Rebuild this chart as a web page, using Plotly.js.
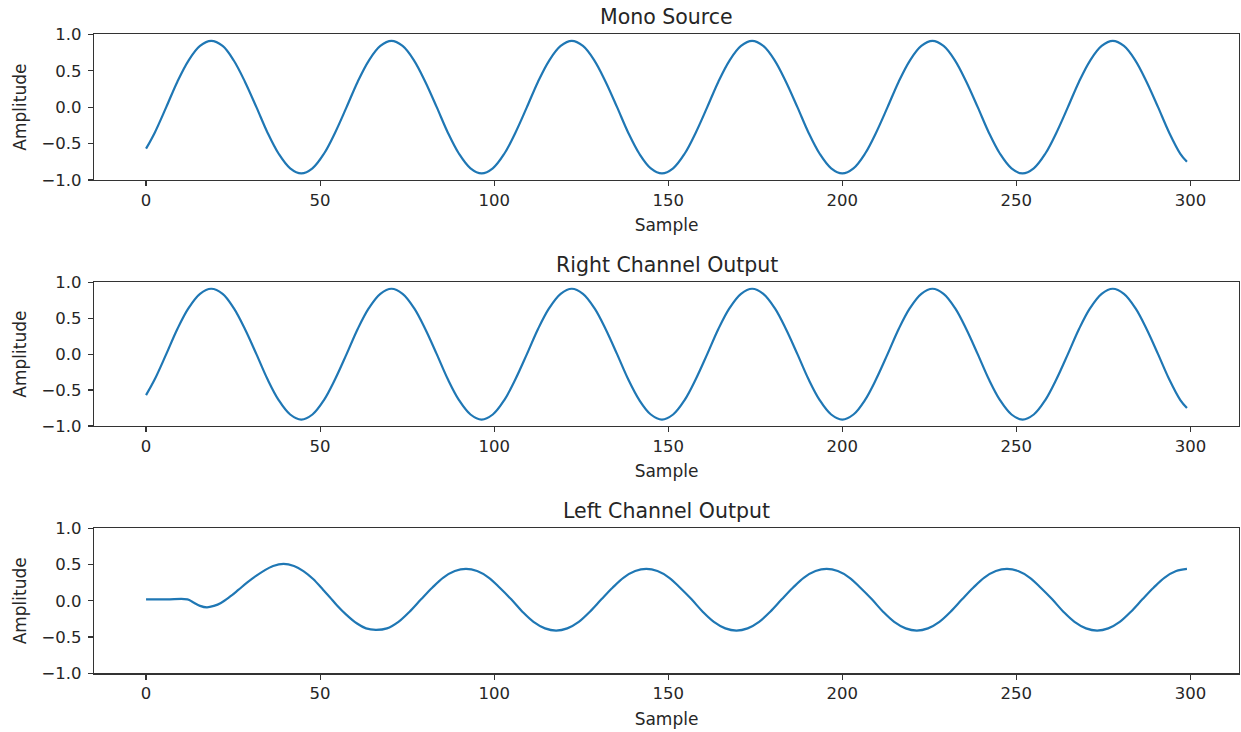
<!DOCTYPE html>
<html>
<head>
<meta charset="utf-8">
<script src="https://cdn.plot.ly/plotly-3.0.1.min.js"></script>
<style>html,body{margin:0;padding:0;background:#fff;}#chart{width:1241px;height:732px;}</style>
</head>
<body>
<div id="chart"></div>
<script>
// Subplot titles and axis labels
const subplotTitles = ["Mono Source", "Right Channel Output", "Left Channel Output"];
const xLabel = "Sample";
const yLabel = "Amplitude";
const xTickVals = [0, 50, 100, 150, 200, 250, 300];
const yTickVals = [-1.0, -0.5, 0.0, 0.5, 1.0];

// Mono source: points (sample, amplitude)
const monoX = [0, 2.5,
  5.8, 9.0, 12.2, 15.5, 18.7, 22.0, 25.2, 28.4, 31.7, 34.9, 38.1, 41.4, 44.6, 47.8, 51.1, 54.3,
  57.6, 60.8, 64.0, 67.3, 70.5, 73.7, 77.0, 80.2, 83.5, 86.7, 89.9, 93.2, 96.4, 99.6, 102.9, 106.1,
  109.4, 112.6, 115.8, 119.1, 122.3, 125.5, 128.8, 132.0, 135.3, 138.5, 141.7, 145.0, 148.2, 151.4, 154.7, 157.9,
  161.2, 164.4, 167.6, 170.9, 174.1, 177.3, 180.6, 183.8, 187.1, 190.3, 193.5, 196.8, 200.0, 203.2, 206.5, 209.7,
  213.0, 216.2, 219.4, 222.7, 225.9, 229.1, 232.4, 235.6, 238.9, 242.1, 245.3, 248.6, 251.8, 255.0, 258.3, 261.5,
  264.8, 268.0, 271.2, 274.5, 277.7, 280.9, 284.2, 287.4, 290.7, 293.9, 297.1,
  299];
const monoY = [-0.57, -0.35,
  0, 0.35, 0.64, 0.84, 0.91, 0.84, 0.64, 0.35, 0, -0.35, -0.64, -0.84, -0.91, -0.84, -0.64, -0.35,
  0, 0.35, 0.64, 0.84, 0.91, 0.84, 0.64, 0.35, 0, -0.35, -0.64, -0.84, -0.91, -0.84, -0.64, -0.35,
  0, 0.35, 0.64, 0.84, 0.91, 0.84, 0.64, 0.35, 0, -0.35, -0.64, -0.84, -0.91, -0.84, -0.64, -0.35,
  0, 0.35, 0.64, 0.84, 0.91, 0.84, 0.64, 0.35, 0, -0.35, -0.64, -0.84, -0.91, -0.84, -0.64, -0.35,
  0, 0.35, 0.64, 0.84, 0.91, 0.84, 0.64, 0.35, 0, -0.35, -0.64, -0.84, -0.91, -0.84, -0.64, -0.35,
  0, 0.35, 0.64, 0.84, 0.91, 0.84, 0.64, 0.35, 0, -0.35, -0.64,
  -0.75];

// Right channel output: same as the mono source in the picture
const rightX = monoX.slice();
const rightY = monoY.slice();

// Left channel output: points
const leftX = [0, 6, 11.9, 13.5, 15.5, 17.5, 19.5, 21.5, 24.2, 26.5, 29.0, 31.5, 33.7, 36.5, 39.5, 42.5, 45.2, 48.0, 50.9, 52.8, 54.8, 57.5, 60.5, 63.2,
  66.0, 69.2, 72.5, 75.7, 79.0, 82.2, 85.4, 88.7, 91.9, 95.1, 98.4, 101.6, 104.9, 108.1, 111.3, 114.6,
  117.8, 121.0, 124.3, 127.5, 130.8, 134.0, 137.2, 140.5, 143.7, 146.9, 150.2, 153.4, 156.7, 159.9, 163.1, 166.4,
  169.6, 172.8, 176.1, 179.3, 182.6, 185.8, 189.0, 192.3, 195.5, 198.7, 202.0, 205.2, 208.5, 211.7, 214.9, 218.2,
  221.4, 224.6, 227.9, 231.1, 234.4, 237.6, 240.8, 244.1, 247.3, 250.5, 253.8, 257.0, 260.3, 263.5, 266.7, 270.0,
  273.2, 276.4, 279.7, 282.9, 286.2, 289.4, 292.6, 295.9, 299.0];
const leftY = [0.02, 0.02, 0.02, -0.02, -0.07, -0.09, -0.07, -0.03, 0.06, 0.15, 0.25, 0.34, 0.41, 0.48, 0.51, 0.48, 0.41, 0.30, 0.15, 0.05, -0.06, -0.19, -0.31, -0.38,
  -0.40, -0.38, -0.29, -0.15, 0.02, 0.18, 0.32, 0.41, 0.44, 0.41, 0.32, 0.18, 0.02, -0.15, -0.29, -0.38,
  -0.41, -0.38, -0.29, -0.15, 0.02, 0.18, 0.32, 0.41, 0.44, 0.41, 0.32, 0.18, 0.02, -0.15, -0.29, -0.38,
  -0.41, -0.38, -0.29, -0.15, 0.02, 0.18, 0.32, 0.41, 0.44, 0.41, 0.32, 0.18, 0.02, -0.15, -0.29, -0.38,
  -0.41, -0.38, -0.29, -0.15, 0.02, 0.18, 0.32, 0.41, 0.44, 0.41, 0.32, 0.18, 0.02, -0.15, -0.29, -0.38,
  -0.41, -0.38, -0.29, -0.15, 0.02, 0.18, 0.32, 0.41, 0.44];

const lineColor = "#1f77b4";
const textColor = "#262626";
const fontFam = "DejaVu Sans, sans-serif";

function mkTrace(x, y, n) {
  return {
    x: x, y: y, type: "scatter", mode: "lines",
    line: {color: lineColor, width: 2.2, shape: "spline", smoothing: 1},
    xaxis: n === 1 ? "x" : "x" + n,
    yaxis: n === 1 ? "y" : "y" + n,
    hoverinfo: "skip", showlegend: false
  };
}

const H = 732;
const doms = [[34.3, 180], [282.3, 426], [528.3, 673.3]].map(d => [1 - d[1] / H, 1 - d[0] / H]);

function xAxis(n) {
  return {
    domain: [0, 1], anchor: n === 1 ? "y" : "y" + n,
    range: [-14.95, 313.95], tickvals: xTickVals, ticktext: xTickVals.map(String),
    showgrid: false, zeroline: false, showline: true, mirror: true,
    linecolor: "#333", linewidth: 1.2, ticks: "outside", ticklen: 5, tickwidth: 1.2, tickcolor: "#333",
    tickfont: {family: fontFam, size: 16.5, color: textColor},
    title: {text: xLabel, font: {family: fontFam, size: 17, color: textColor}, standoff: 10},
    automargin: false, fixedrange: true
  };
}
function yAxis(n) {
  return {
    domain: doms[n - 1], anchor: n === 1 ? "x" : "x" + n,
    range: [-1, 1], tickvals: yTickVals, tickformat: ".1f",
    showgrid: false, zeroline: false, showline: true, mirror: true,
    linecolor: "#333", linewidth: 1.2, ticks: "outside", ticklen: 5, tickwidth: 1.2, tickcolor: "#333",
    tickfont: {family: fontFam, size: 16.5, color: textColor}, ticklabelstandoff: 3,
    title: {text: yLabel, font: {family: fontFam, size: 17, color: textColor}, standoff: 10},
    automargin: false, fixedrange: true
  };
}

const data = [mkTrace(monoX, monoY, 1), mkTrace(rightX, rightY, 2), mkTrace(leftX, leftY, 3)];

const annotations = subplotTitles.map((t, i) => ({
  text: t, xref: "paper", yref: "paper", x: 0.5, y: doms[i][1],
  xanchor: "center", yanchor: "bottom", yshift: 3, showarrow: false,
  font: {family: fontFam, size: 20.5, color: textColor}
}));

const layout = {
  width: 1241, height: 732,
  margin: {l: 94, r: 2, t: 0, b: 0},
  paper_bgcolor: "#fff", plot_bgcolor: "#fff",
  xaxis: xAxis(1), yaxis: yAxis(1),
  xaxis2: xAxis(2), yaxis2: yAxis(2),
  xaxis3: xAxis(3), yaxis3: yAxis(3),
  annotations: annotations,
  showlegend: false
};

Plotly.newPlot("chart", data, layout, {displayModeBar: false, staticPlot: true});
</script>
</body>
</html>
